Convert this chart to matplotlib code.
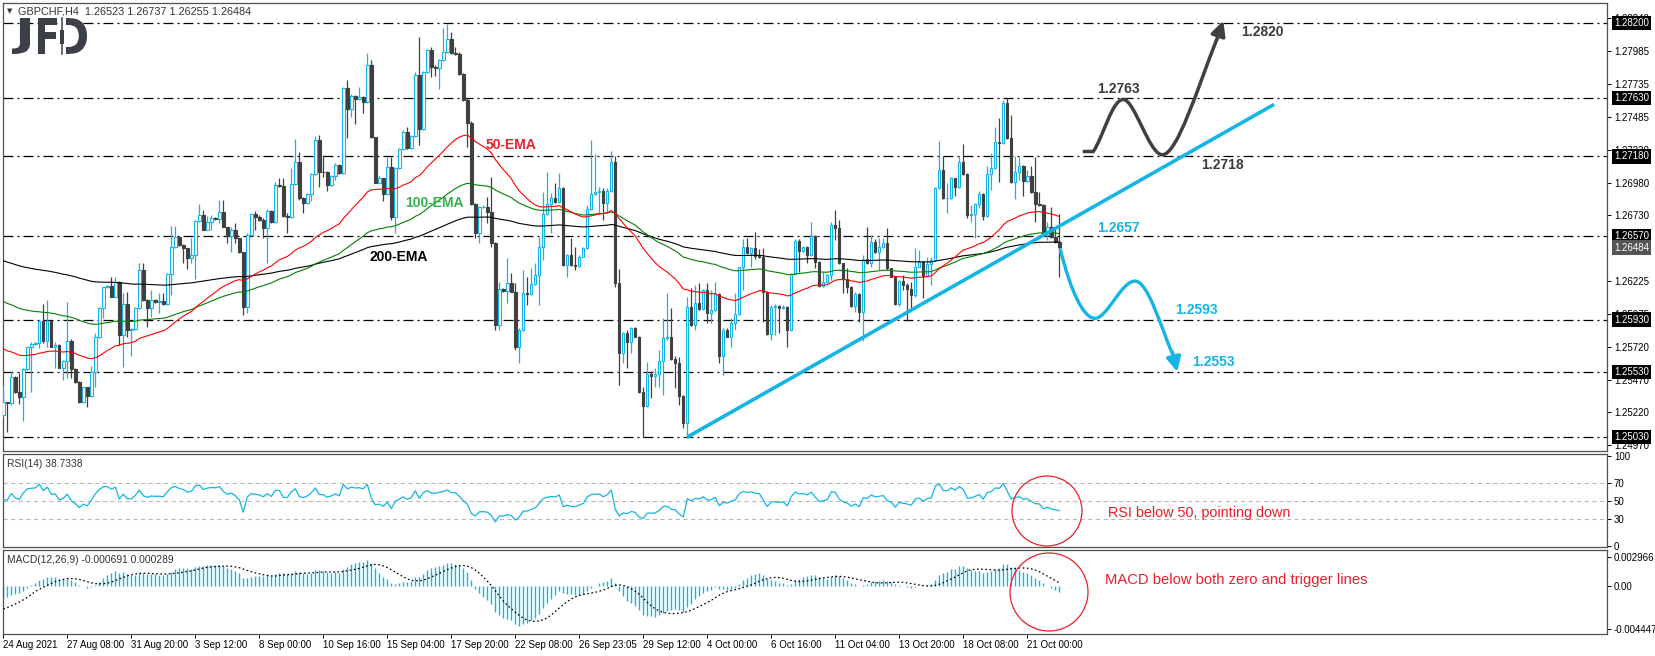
import numpy as np
import matplotlib.pyplot as plt
from matplotlib.patches import Rectangle, Circle, PathPatch
from matplotlib.path import Path
from matplotlib.textpath import TextPath
from matplotlib.font_manager import FontProperties
from matplotlib.transforms import Affine2D

plt.rcParams['font.family'] = ['Liberation Sans', 'DejaVu Sans']
plt.rcParams['lines.scale_dashes'] = False

# GBPCHF H4 candles (open of each bar = previous close)
first_open = 1.25199
closes = [
    1.25301, 1.25294, 1.25493, 1.25378, 1.25340, 1.25549, 1.25718, 1.25743, 1.25754, 1.25917,
    1.25769, 1.25917, 1.25723, 1.25736, 1.25557, 1.25613, 1.25769, 1.25549, 1.25455, 1.25301,
    1.25411, 1.25345, 1.25531, 1.25795, 1.26017, 1.26178, 1.26188, 1.26106, 1.26221, 1.25812,
    1.26050, 1.25851, 1.25856, 1.26017, 1.26310, 1.26080, 1.26017, 1.26080, 1.26068, 1.26073,
    1.26050, 1.26277, 1.26489, 1.26566, 1.26502, 1.26476, 1.26400, 1.26425, 1.26688, 1.26732,
    1.26617, 1.26681, 1.26706, 1.26700, 1.26752, 1.26643, 1.26571, 1.26617, 1.26553, 1.26446,
    1.26024, 1.26578, 1.26739, 1.26719, 1.26694, 1.26630, 1.26765, 1.26674, 1.26962, 1.26956,
    1.26724, 1.26719, 1.26969, 1.27140, 1.26859, 1.26821, 1.26893, 1.27046, 1.27306, 1.27064,
    1.27060, 1.26962, 1.27031, 1.27115, 1.27051, 1.27702, 1.27541, 1.27646, 1.27618, 1.27633,
    1.27600, 1.27881, 1.27327, 1.26979, 1.27013, 1.26893, 1.27102, 1.26714, 1.27089, 1.27235,
    1.27370, 1.27243, 1.27337, 1.27804, 1.27388, 1.27830, 1.27996, 1.27868, 1.27855, 1.27919,
    1.27983, 1.28078, 1.27970, 1.27965, 1.27812, 1.27613, 1.27439, 1.26816, 1.26591, 1.26790,
    1.26796, 1.26757, 1.26515, 1.25889, 1.26162, 1.26149, 1.26213, 1.26144, 1.25723, 1.25851,
    1.26131, 1.26124, 1.26203, 1.26269, 1.26489, 1.26739, 1.26816, 1.26859, 1.26834, 1.26936,
    1.26349, 1.26425, 1.26349, 1.26344, 1.26412, 1.26476, 1.26775, 1.26893, 1.26905, 1.26918,
    1.26821, 1.26918, 1.27140, 1.26213, 1.25677, 1.25830, 1.25761, 1.25863, 1.25800, 1.25378,
    1.25268, 1.25513, 1.25498, 1.25513, 1.25616, 1.25787, 1.25795, 1.25626, 1.25595, 1.25345,
    1.25135, 1.26024, 1.25889, 1.26055, 1.26009, 1.26157, 1.25983, 1.26004, 1.26126, 1.25651,
    1.25851, 1.25800, 1.25903, 1.25973, 1.26331, 1.26484, 1.26443, 1.26476, 1.26418, 1.26407,
    1.26144, 1.25820, 1.26029, 1.26034, 1.26017, 1.26029, 1.25851, 1.26280, 1.26535, 1.26458,
    1.26484, 1.26425, 1.26571, 1.26374, 1.26188, 1.26221, 1.26269, 1.26655, 1.26635, 1.26361,
    1.26239, 1.26183, 1.26034, 1.26126, 1.25991, 1.26392, 1.26361, 1.26527, 1.26451, 1.26484,
    1.26515, 1.26323, 1.26259, 1.26050, 1.26228, 1.26195, 1.26162, 1.26119, 1.26336, 1.26374,
    1.26264, 1.26356, 1.26387, 1.26936, 1.27077, 1.26859, 1.26859, 1.27013, 1.26944, 1.27140,
    1.27046, 1.26732, 1.26737, 1.26816, 1.26893, 1.26724, 1.27046, 1.27089, 1.27294, 1.27281,
    1.27587, 1.27319, 1.26987, 1.27064, 1.27107, 1.26995, 1.27031, 1.26910, 1.26816, 1.26808,
    1.26578, 1.26637, 1.26561, 1.26523, 1.26484,
]
highs = [
    1.25429, 1.25301, 1.25539, 1.25498, 1.25519, 1.25557, 1.25723, 1.25761, 1.25759, 1.25922,
    1.26050, 1.26080, 1.25922, 1.25761, 1.25741, 1.25621, 1.26063, 1.25779, 1.25557, 1.25460,
    1.25416, 1.25416, 1.25576, 1.25825, 1.26029, 1.26183, 1.26195, 1.26254, 1.26254, 1.26226,
    1.26131, 1.26144, 1.25863, 1.26024, 1.26361, 1.26361, 1.26085, 1.26157, 1.26085, 1.26131,
    1.26131, 1.26285, 1.26647, 1.26647, 1.26571, 1.26507, 1.26481, 1.26553, 1.26694, 1.26816,
    1.26770, 1.26724, 1.26732, 1.26719, 1.26847, 1.26847, 1.26643, 1.26643, 1.26668, 1.26558,
    1.26451, 1.26591, 1.26750, 1.26765, 1.26732, 1.26706, 1.26775, 1.26770, 1.26987, 1.27013,
    1.27013, 1.26744, 1.27089, 1.27311, 1.27217, 1.26867, 1.26903, 1.27056, 1.27337, 1.27345,
    1.27191, 1.27071, 1.27038, 1.27128, 1.27122, 1.27710, 1.27766, 1.27656, 1.27651, 1.27715,
    1.27643, 1.27970, 1.27919, 1.27332, 1.27031, 1.27018, 1.27179, 1.27179, 1.27102, 1.27243,
    1.27379, 1.27409, 1.27345, 1.27830, 1.28098, 1.27838, 1.28001, 1.28021, 1.27881, 1.27929,
    1.28162, 1.28195, 1.28136, 1.28021, 1.27983, 1.27817, 1.27631, 1.27452, 1.26827, 1.26801,
    1.26808, 1.26872, 1.27025, 1.26527, 1.26221, 1.26170, 1.26400, 1.26285, 1.26208, 1.25863,
    1.26310, 1.26259, 1.26323, 1.26361, 1.26566, 1.26910, 1.27064, 1.26903, 1.26979, 1.27056,
    1.26944, 1.26433, 1.26553, 1.26489, 1.26423, 1.26484, 1.26808, 1.27306, 1.27199, 1.26949,
    1.26936, 1.26936, 1.27225, 1.27184, 1.26315, 1.25838, 1.25851, 1.25871, 1.25871, 1.25805,
    1.25411, 1.25608, 1.25539, 1.25557, 1.25697, 1.25940, 1.26131, 1.26017, 1.25651, 1.25646,
    1.25353, 1.26101, 1.26170, 1.26195, 1.26208, 1.26162, 1.26208, 1.26157, 1.26221, 1.26131,
    1.25863, 1.25863, 1.25940, 1.26131, 1.26336, 1.26545, 1.26553, 1.26484, 1.26604, 1.26469,
    1.26476, 1.26152, 1.26042, 1.26050, 1.26042, 1.26042, 1.26034, 1.26285, 1.26545, 1.26545,
    1.26494, 1.26494, 1.26681, 1.26578, 1.26379, 1.26298, 1.26280, 1.26681, 1.26770, 1.26694,
    1.26366, 1.26323, 1.26188, 1.26144, 1.26131, 1.26425, 1.26643, 1.26578, 1.26545, 1.26553,
    1.26553, 1.26635, 1.26328, 1.26264, 1.26234, 1.26272, 1.26208, 1.26221, 1.26476, 1.26464,
    1.26379, 1.26412, 1.26412, 1.26944, 1.27301, 1.27184, 1.26974, 1.27025, 1.27018, 1.27184,
    1.27276, 1.27051, 1.26808, 1.26827, 1.26918, 1.26903, 1.27107, 1.27204, 1.27409, 1.27472,
    1.27613, 1.27626, 1.27498, 1.27184, 1.27179, 1.27112, 1.27077, 1.27107, 1.27174, 1.26910,
    1.26813, 1.26681, 1.26796, 1.26643, 1.26737,
]
lows = [
    1.25187, 1.25072, 1.25276, 1.25365, 1.25284, 1.25156, 1.25544, 1.25378, 1.25736, 1.25710,
    1.25748, 1.25723, 1.25718, 1.25557, 1.25557, 1.25467, 1.25480, 1.25480, 1.25447, 1.25294,
    1.25294, 1.25263, 1.25340, 1.25416, 1.25787, 1.25940, 1.26170, 1.26101, 1.26101, 1.25736,
    1.25570, 1.25800, 1.25651, 1.25851, 1.26009, 1.26073, 1.25876, 1.25953, 1.26060, 1.25978,
    1.26042, 1.26042, 1.26119, 1.26476, 1.26494, 1.26361, 1.26315, 1.26361, 1.26239, 1.26681,
    1.26613, 1.26617, 1.26617, 1.26694, 1.26668, 1.26637, 1.26520, 1.26451, 1.26515, 1.26438,
    1.25966, 1.25978, 1.26571, 1.26617, 1.26686, 1.26553, 1.26366, 1.26668, 1.26668, 1.26949,
    1.26719, 1.26591, 1.26706, 1.26962, 1.26847, 1.26744, 1.26816, 1.26835, 1.27038, 1.26949,
    1.27025, 1.26918, 1.26954, 1.27001, 1.27046, 1.27046, 1.27319, 1.27480, 1.27429, 1.27613,
    1.27511, 1.27592, 1.27319, 1.26974, 1.26974, 1.26835, 1.26885, 1.26694, 1.26591, 1.27082,
    1.27231, 1.27235, 1.27235, 1.27332, 1.27268, 1.27383, 1.27822, 1.27792, 1.27797, 1.27695,
    1.27914, 1.27976, 1.27965, 1.27958, 1.27807, 1.27608, 1.27255, 1.26811, 1.26553, 1.26520,
    1.26783, 1.26668, 1.26489, 1.25851, 1.25851, 1.26142, 1.26055, 1.26139, 1.25697, 1.25595,
    1.25845, 1.26042, 1.26119, 1.26195, 1.26042, 1.26387, 1.26732, 1.26596, 1.26827, 1.26827,
    1.26341, 1.26259, 1.26341, 1.26310, 1.26336, 1.26407, 1.26469, 1.26770, 1.26885, 1.26744,
    1.26693, 1.26744, 1.26910, 1.26183, 1.25429, 1.25595, 1.25557, 1.25672, 1.25795, 1.25365,
    1.25033, 1.25263, 1.25327, 1.25411, 1.25416, 1.25353, 1.25775, 1.25621, 1.25404, 1.25276,
    1.25097, 1.25021, 1.25881, 1.25851, 1.26004, 1.26004, 1.25903, 1.25903, 1.25999, 1.25595,
    1.25506, 1.25795, 1.25723, 1.25851, 1.25966, 1.26157, 1.26438, 1.26336, 1.26392, 1.26400,
    1.25914, 1.25812, 1.25775, 1.25812, 1.25825, 1.26009, 1.25718, 1.25845, 1.26272, 1.26291,
    1.26451, 1.26361, 1.26418, 1.26323, 1.26178, 1.26183, 1.26213, 1.26234, 1.26540, 1.26356,
    1.26131, 1.26131, 1.26029, 1.25991, 1.25914, 1.25769, 1.26356, 1.26336, 1.26443, 1.26310,
    1.26476, 1.26310, 1.26254, 1.26042, 1.26034, 1.26157, 1.25922, 1.26017, 1.26106, 1.26331,
    1.26093, 1.26254, 1.26195, 1.26382, 1.26928, 1.26852, 1.26744, 1.26852, 1.26877, 1.26936,
    1.27038, 1.26706, 1.26674, 1.26553, 1.26783, 1.26693, 1.26719, 1.26923, 1.27082, 1.26987,
    1.27276, 1.27311, 1.26974, 1.26852, 1.27001, 1.26877, 1.26987, 1.26903, 1.26674, 1.26801,
    1.26571, 1.26540, 1.26555, 1.26515, 1.26257,
]

# indicator values at the left edge of the chart
ema_start = {50: 1.25723, 100: 1.26085, 200: 1.26392}
macd_ema_start = (1.25270, 1.25415)   # EMA12, EMA26
signal_pad = -0.00255
rsi_gain_start, rsi_loss_start = 0.00045, 0.00050

levels = [1.2820, 1.2763, 1.2718, 1.2657, 1.2593, 1.2553, 1.2503]
level_labels = ['1.28200', '1.27630', '1.27180', '1.26570', '1.25930', '1.25530', '1.25030']
price_ticks = [1.28240, 1.27985, 1.27735, 1.27485, 1.27230, 1.26980, 1.26730,
               1.26225, 1.25975, 1.25720, 1.25470, 1.25220, 1.24970]
last_price = 1.26484

date_labels = ['24 Aug 2021', '27 Aug 08:00', '31 Aug 20:00', '3 Sep 12:00', '8 Sep 00:00',
               '10 Sep 16:00', '15 Sep 04:00', '17 Sep 20:00', '22 Sep 08:00', '26 Sep 23:05',
               '29 Sep 12:00', '4 Oct 00:00', '6 Oct 16:00', '11 Oct 04:00', '13 Oct 20:00',
               '18 Oct 08:00', '21 Oct 00:00']

CYAN = '#14B4E6'
DARK = '#404040'

c = np.array(closes)
o = np.concatenate([[first_open], c[:-1]])
h = np.maximum(np.array(highs), np.maximum(o, c))
l = np.minimum(np.array(lows), np.minimum(o, c))
x = np.arange(len(c))


def ema(values, n, start):
    a = 2.0 / (n + 1)
    out, e = [], start
    for v in values:
        e = e + a * (v - e)
        out.append(e)
    return np.array(out)


ema50 = ema(c, 50, ema_start[50])
ema100 = ema(c, 100, ema_start[100])
ema200 = ema(c, 200, ema_start[200])

macd = ema(c, 12, macd_ema_start[0]) - ema(c, 26, macd_ema_start[1])
padded = np.concatenate([np.full(8, signal_pad), macd])
signal = np.array([padded[i:i + 9].mean() for i in range(len(macd))])

diff = c - o
ag, al = rsi_gain_start, rsi_loss_start
rsi = []
for d in diff:
    ag = (ag * 13 + max(d, 0)) / 14
    al = (al * 13 + max(-d, 0)) / 14
    rsi.append(100 - 100 / (1 + ag / al))
rsi = np.array(rsi)

W, H = 1655, 656
fig = plt.figure(figsize=(W / 100, H / 100), dpi=100)


def px_axes(x0, y0, x1, y1):
    return fig.add_axes([x0 / W, 1 - y1 / H, (x1 - x0) / W, (y1 - y0) / H])


ax = px_axes(2.5, 3, 1607, 451)
ax_rsi = px_axes(2.5, 454, 1607, 547)
ax_macd = px_axes(2.5, 550, 1607, 634)

xmax = (1607 - 3.3) / 4
for a in (ax, ax_rsi, ax_macd):
    a.set_xlim(-0.2, xmax)
    for s in a.spines.values():
        s.set_color('#505050')
        s.set_linewidth(0.9)
    a.yaxis.tick_right()
    a.tick_params(axis='y', direction='out', length=3, width=0.7, pad=2,
                  labelsize=7, colors='black')
    a.tick_params(axis='x', bottom=False, labelbottom=False)

# ---- main price panel
ax.set_ylim(1.24923, 1.28356)
for lv in levels:
    ax.axhline(lv, color='black', lw=0.9, linestyle=(0, (7.2, 2.9, 1.4, 2.9)), zorder=1)

bull = c >= o
cols = np.where(bull, CYAN, DARK)
ax.vlines(x, l, h, colors=cols, lw=0.9, zorder=3)
body = np.maximum(np.abs(c - o), 0.00002)
ax.bar(x, body, bottom=np.minimum(o, c), width=0.6,
       color=np.where(bull, 'white', DARK), edgecolor=cols, linewidth=0.8, zorder=3.5)

ax.plot(x, ema200, color='black', lw=0.8, zorder=4)
ax.plot(x, ema100, color='#008000', lw=0.8, zorder=4)
ax.plot(x, ema50, color='#FF0000', lw=0.8, zorder=4)
ax.text(126.9, 1.27268, '50-EMA', color='#E8212B', fontsize=10, fontweight='bold',
        ha='center', va='center', zorder=6)
ax.text(107.7, 1.26824, '100-EMA', color='#35B34A', fontsize=10, fontweight='bold',
        ha='center', va='center', zorder=6)
ax.text(98.9, 1.26410, '200-EMA', color='black', fontsize=10, fontweight='bold',
        ha='center', va='center', zorder=6)

# rising trend line
ax.plot([171, 317.7], [1.2503, 1.27579], color=CYAN, lw=2.6, solid_capstyle='butt', zorder=5)

# projected paths
up_path = Path([(269.85, 1.27218), (272.5, 1.27218),
                (275.0, 1.27330), (277.2, 1.27617), (280.0, 1.27617),
                (282.8, 1.27617), (286.5, 1.27193), (289.75, 1.27193),
                (293.5, 1.27193), (298.5, 1.27700), (303.4, 1.28080)],
               [Path.MOVETO, Path.LINETO] + [Path.CURVE4] * 9)
ax.add_patch(PathPatch(up_path, fc='none', ec=DARK, lw=2.5, zorder=6))
ax.annotate('', xy=(305.0, 1.2822), xytext=(303.3, 1.2807),
            arrowprops=dict(arrowstyle='-|>', color=DARK, lw=2.5, mutation_scale=22,
                            shrinkA=0, shrinkB=0), zorder=6)

down_path = Path([(264.2, 1.26474),
                  (266.8, 1.26150), (270.0, 1.25940), (272.9, 1.25940),
                  (276.0, 1.25940), (279.5, 1.26225), (282.9, 1.26225),
                  (286.3, 1.26225), (289.6, 1.25850), (292.4, 1.25660)],
                 [Path.MOVETO] + [Path.CURVE4] * 9)
ax.add_patch(PathPatch(down_path, fc='none', ec=CYAN, lw=2.4, zorder=6))
ax.annotate('', xy=(293.5, 1.25530), xytext=(292.3, 1.25680),
            arrowprops=dict(arrowstyle='-|>', color=CYAN, lw=2.4, mutation_scale=22,
                            shrinkA=0, shrinkB=0), zorder=6)

for bx, py, txt, col in [(278.9, 1.27694, '1.2763', '#3A3A3A'),
                         (304.8, 1.27114, '1.2718', '#3A3A3A'),
                         (314.7, 1.28137, '1.2820', '#3A3A3A'),
                         (278.7, 1.26634, '1.2657', CYAN),
                         (298.2, 1.26004, '1.2593', CYAN),
                         (302.5, 1.25604, '1.2553', CYAN)]:
    ax.text(bx, py, txt, color=col, fontsize=10, fontweight='bold',
            ha='center', va='center', zorder=7)

ax.set_yticks(price_ticks)
ax.set_yticklabels([f'{t:.5f}' for t in price_ticks])
lab_x = (1614 - 2.5) / (1607 - 2.5)
for lv, lb in zip(levels, level_labels):
    ax.text(lab_x, lv, lb, transform=ax.get_yaxis_transform(), color='white', fontsize=7,
            va='center', ha='left', clip_on=False, zorder=8,
            bbox=dict(boxstyle='square,pad=0.22', fc='black', ec='none'))
ax.text(lab_x, last_price - 0.00002, f'{last_price:.5f}', transform=ax.get_yaxis_transform(),
        color='white', fontsize=7, va='center', ha='left', clip_on=False, zorder=8,
        bbox=dict(boxstyle='square,pad=0.22', fc='#555555', ec='none'))

# ---- RSI panel
ax_rsi.set_ylim(-1.1, 102.2)
for lv in (70, 50, 30):
    ax_rsi.axhline(lv, color='#B8B8B8', lw=0.8, linestyle=(0, (3, 2.5)), zorder=1)
ax_rsi.plot(x, rsi, color=CYAN, lw=0.9, zorder=3)
ax_rsi.set_yticks([100, 70, 50, 30, 0])
ax_rsi.set_yticklabels(['100', '70', '50', '30', '0'])

# ---- MACD panel
ax_macd.set_ylim(-0.0050, 0.0037)
ax_macd.vlines(x, 0, macd, colors=CYAN, lw=1.0, zorder=2)
ax_macd.plot(x, signal, color='black', lw=0.9, linestyle=(0, (1.2, 1.8)), zorder=3)
ax_macd.set_yticks([0.002966, 0.0, -0.004447])
ax_macd.set_yticklabels(['0.002966', '0.00', '-0.004447'])
ax_macd.set_xticks(np.arange(len(date_labels)) * 16)
ax_macd.set_xticklabels(date_labels, ha='left')
ax_macd.tick_params(axis='x', bottom=True, labelbottom=True, direction='out', length=3,
                    width=0.7, pad=1.5, labelsize=7, colors='black')

# ---- overlay in pixel coordinates: header, logo, notes
ov = fig.add_axes([0, 0, 1, 1], facecolor='none')
ov.set_xlim(0, W)
ov.set_ylim(H, 0)
ov.axis('off')

ov.text(7, 11, '\u25bc', fontsize=5, va='center', ha='left', color='#333333',
        family=['DejaVu Sans'])
ov.text(18, 11, 'GBPCHF,H4  1.26523 1.26737 1.26255 1.26484', fontsize=7.8,
        va='center', ha='left', color='#333333')
ov.text(7, 464, 'RSI(14) 38.7338', fontsize=7.4, va='center', ha='left', color='#333333')
ov.text(7, 560, 'MACD(12,26,9) -0.000691 0.000289', fontsize=7.4, va='center', ha='left',
        color='#333333')

logo_col = '#3B3F47'
fp = FontProperties(family='DejaVu Sans', weight='bold')


def glyph(ch, x0, y0, x1, y1):
    tp = TextPath((0, 0), ch, size=1, prop=fp)
    bb = tp.get_extents()
    tr = Affine2D().translate(-bb.x0, -bb.y0).scale((x1 - x0) / bb.width,
                                                     -(y1 - y0) / bb.height).translate(x0, y1)
    ov.add_patch(PathPatch(tr.transform_path(tp), fc=logo_col, ec='none', zorder=10))


glyph('J', 12, 18, 30, 54)
glyph('F', 38, 18, 57, 54)
glyph('D', 58, 18, 87, 54)
ov.add_patch(Rectangle((57.5, 16), 8, 40, fc='white', ec='none', zorder=11))
ov.plot([61.5, 61.5], [18, 54], color=logo_col, lw=1.1, zorder=12)
ov.add_patch(Rectangle((59.5, 30), 4, 14, fc=logo_col, ec='none', zorder=12))

RED = '#E8202A'
ov.add_patch(Circle((1047, 511), 35, fill=False, ec=RED, lw=0.9, zorder=10))
ov.add_patch(Circle((1049, 592), 39, fill=False, ec=RED, lw=0.9, zorder=10))
ov.text(1108, 513, 'RSI below 50, pointing down', color=RED, fontsize=10.4,
        va='center', ha='left')
ov.text(1105, 580, 'MACD below both zero and trigger lines', color=RED, fontsize=10.6,
        va='center', ha='left')

fig.savefig('out.png', dpi=100)
